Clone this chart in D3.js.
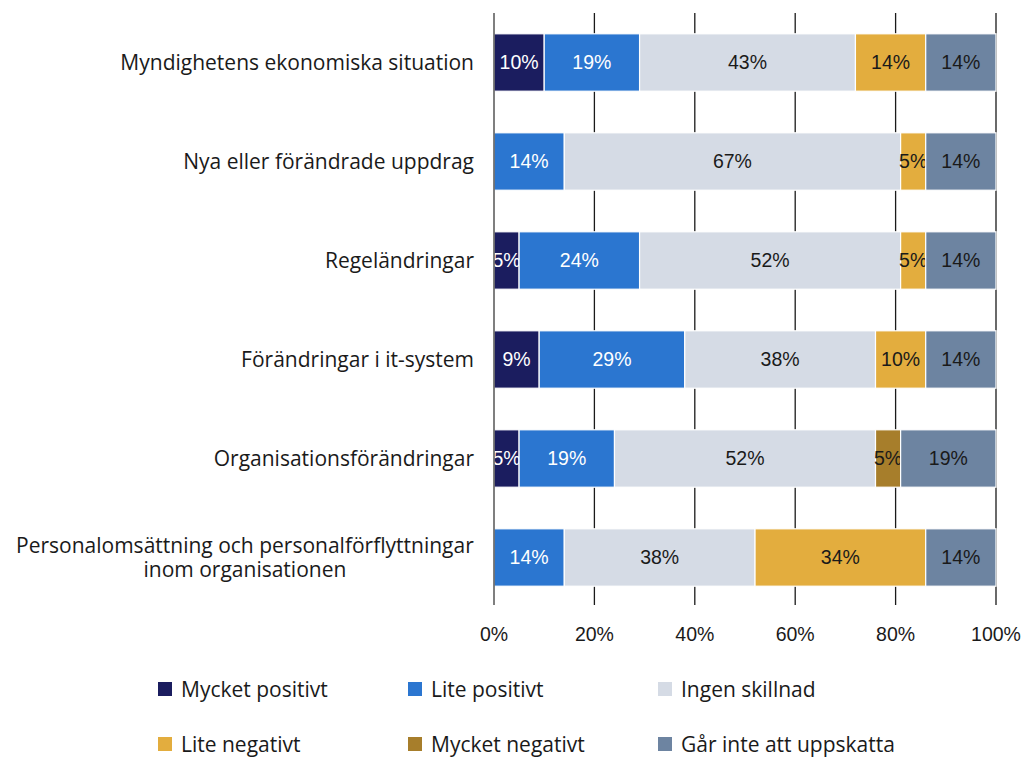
<!DOCTYPE html>
<html>
<head>
<meta charset="utf-8">
<script src="https://cdn.jsdelivr.net/npm/d3@7"></script>
<style>
  body { margin: 0; background: #fff; }
  svg text { font-family: "Liberation Sans", Arial, sans-serif; fill: #1a1a1a; }
  .cat text, .legend text { font-family: "Open Sans", "Liberation Sans", sans-serif; }
</style>
</head>
<body>
<svg id="chart" width="1024" height="758"></svg>
<script>
// Categories, top to bottom. Multi-line labels split on "|".
const categories = [
    "Myndighetens ekonomiska situation",
    "Nya eller förändrade uppdrag",
    "Regeländringar",
    "Förändringar i it-system",
    "Organisationsförändringar",
    "Personalomsättning och personalförflyttningar|inom organisationen"
];
const seriesNames = ["Mycket positivt", "Lite positivt", "Ingen skillnad", "Lite negativt", "Mycket negativt", "Går inte att uppskatta"];
const seriesColors = ["#1b1d5f", "#2b76d0", "#d5dbe5", "#e3ad3e", "#a77e2b", "#6d84a1"];
const labelColors = ["#ffffff", "#ffffff", "#1a1a1a", "#1a1a1a", "#1a1a1a", "#1a1a1a"];

// Percent per series, in the order of categories.
const mycketPositivt  = [10, 0, 5, 9, 5, 0];
const litePositivt    = [19, 14, 24, 29, 19, 14];
const ingenSkillnad   = [43, 67, 52, 38, 52, 38];
const liteNegativt    = [14, 5, 5, 10, 0, 34];
const mycketNegativt  = [0, 0, 0, 0, 5, 0];
const garInte         = [14, 14, 14, 14, 19, 14];
const tickValues = [0, 20, 40, 60, 80, 100];

const svg = d3.select("#chart");

// Build table for the stack.
const table = categories.map((c, i) => ({
    cat: c,
    s0: mycketPositivt[i], s1: litePositivt[i], s2: ingenSkillnad[i],
    s3: liteNegativt[i], s4: mycketNegativt[i], s5: garInte[i]
}));
const keys = ["s0", "s1", "s2", "s3", "s4", "s5"];
const stacked = d3.stack().keys(keys)(table);

const x = d3.scaleLinear().domain([0, 100]).range([494, 996]);
const y = d3.scaleBand().domain(categories).range([13, 607]).paddingInner(0.42).paddingOuter(0.21);

// Vertical gridlines behind the bars.
svg.append("g").selectAll("line")
    .data(tickValues.slice(1))
    .join("line")
    .attr("x1", d => x(d)).attr("x2", d => x(d))
    .attr("y1", 13).attr("y2", 605)
    .attr("stroke", "#1a1a1a").attr("stroke-width", 1.3);

// Bars.
const layers = svg.append("g").selectAll("g")
    .data(stacked)
    .join("g")
    .attr("fill", (d, i) => seriesColors[i]);

layers.selectAll("rect")
    .data(d => d.filter(p => p[1] - p[0] > 0))
    .join("rect")
    .attr("x", d => x(d[0]))
    .attr("y", d => y(d.data.cat))
    .attr("width", d => x(d[1]) - x(d[0]))
    .attr("height", y.bandwidth())
    .attr("stroke", "#fff").attr("stroke-width", 1.2);

// Value labels.
layers.each(function (layer, i) {
    d3.select(this).selectAll("text")
        .data(layer.filter(p => p[1] - p[0] > 0))
        .join("text")
        .attr("x", d => (x(d[0]) + x(d[1])) / 2)
        .attr("y", d => y(d.data.cat) + y.bandwidth() / 2)
        .attr("dy", "0.35em")
        .attr("text-anchor", "middle")
        .attr("font-size", 19.5)
        .style("fill", labelColors[i])
        .text(d => (d[1] - d[0]) + "%");
});

// Left axis line at 0%.
svg.append("line")
    .attr("x1", x(0)).attr("x2", x(0))
    .attr("y1", 13).attr("y2", 605)
    .attr("stroke", "#555").attr("stroke-width", 1.5);

// Category labels.
const catG = svg.append("g").attr("class", "cat");
categories.forEach(c => {
    const lines = c.split("|");
    const cy = y(c) + y.bandwidth() / 2;
    const t = catG.append("text")
        .attr("font-size", 21)
        .attr("text-anchor", lines.length > 1 ? "middle" : "end");
    if (lines.length === 1) {
        t.attr("x", 474).attr("y", cy).attr("dy", "0.35em").text(c);
    } else {
        lines.forEach((l, k) => {
            t.append("tspan")
                .attr("x", 0)
                .attr("y", cy + (k - (lines.length - 1) / 2) * 24)
                .attr("dy", "0.35em")
                .text(l);
        });
        // Right-align the block, centre the lines in it.
        const w = t.node().getBBox().width;
        t.selectAll("tspan").attr("x", 474 - w / 2);
    }
});

// X axis tick labels.
svg.append("g").selectAll("text")
    .data(tickValues)
    .join("text")
    .attr("x", d => x(d)).attr("y", 634)
    .attr("dy", "0.35em")
    .attr("text-anchor", "middle")
    .attr("font-size", 19.5)
    .text(d => d + "%");

// Legend.
const legend = svg.append("g").attr("class", "legend");
seriesNames.forEach((name, i) => {
    const lx = 158 + (i % 3) * 250;
    const ly = 690 + Math.floor(i / 3) * 55;
    legend.append("rect")
        .attr("x", lx).attr("y", ly - 8)
        .attr("width", 14).attr("height", 14)
        .attr("fill", seriesColors[i]);
    legend.append("text")
        .attr("x", lx + 23).attr("y", ly)
        .attr("dy", "0.35em")
        .attr("font-size", 21)
        .text(name);
});
</script>
</body>
</html>
